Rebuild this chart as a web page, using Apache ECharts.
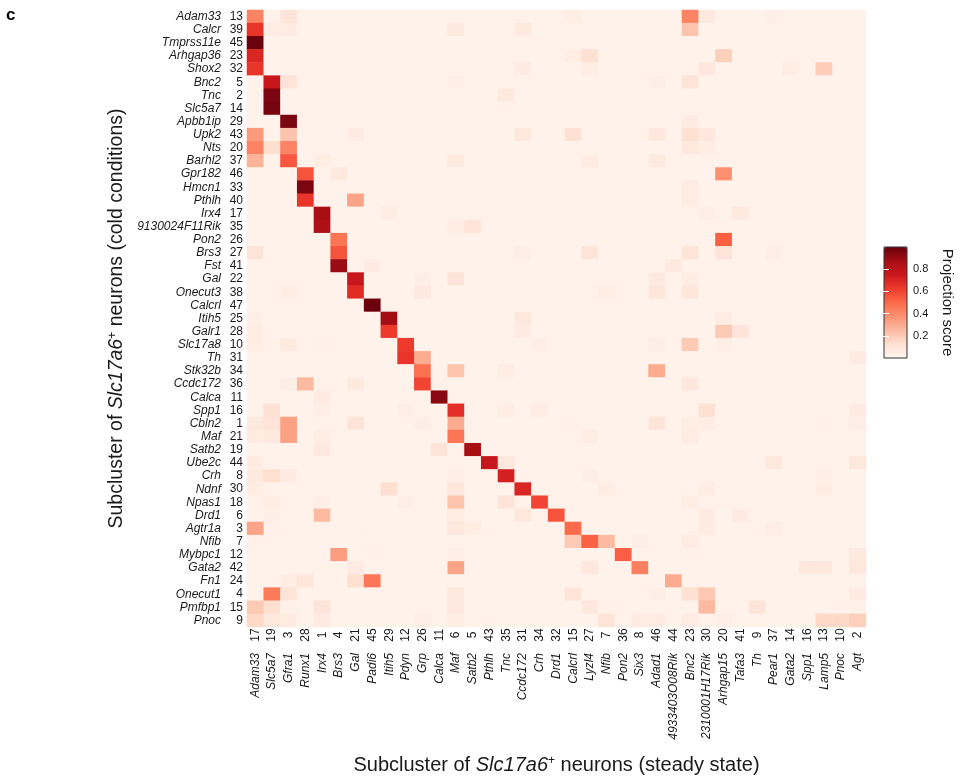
<!DOCTYPE html>
<html><head><meta charset="utf-8">
<script src="https://cdn.jsdelivr.net/npm/echarts@6/dist/echarts.min.js"></script>
<style>html,body{margin:0;padding:0;background:#fff}#c{width:963px;height:780px}</style>
</head><body><div id="c"></div>
<script>
// Columns: subclusters in steady state
const xNames = ['Adam33','Slc5a7','Gfra1','Runx1','Irx4','Brs3','Gal','Padi6','Itih5','Pdyn','Grp','Calca','Maf','Satb2','Pthlh','Tnc','Ccdc172','Crh','Drd1','Calcrl','Lyzl4','Nfib','Pon2','Six3','Adad1','4933403O08Rik','Bnc2','2310001H17Rik','Arhgap15','Tafa3','Th','Pear1','Gata2','Spp1','Lamp5','Pnoc','Agt'];
const xIds = [17,19,3,28,1,4,21,45,29,12,26,11,6,5,43,35,31,34,32,15,27,7,36,8,46,44,23,30,20,41,9,37,14,16,13,10,2];
// Rows: subclusters in cold conditions
const yNames = ['Adam33','Calcr','Tmprss11e','Arhgap36','Shox2','Bnc2','Tnc','Slc5a7','Apbb1ip','Upk2','Nts','Barhl2','Gpr182','Hmcn1','Pthlh','Irx4','9130024F11Rik','Pon2','Brs3','Fst','Gal','Onecut3','Calcrl','Itih5','Galr1','Slc17a8','Th','Stk32b','Ccdc172','Calca','Spp1','Cbln2','Maf','Satb2','Ube2c','Crh','Ndnf','Npas1','Drd1','Agtr1a','Nfib','Mybpc1','Gata2','Fn1','Onecut1','Pmfbp1','Pnoc'];
const yIds = [13,39,45,23,32,5,2,14,29,43,20,37,46,33,40,17,35,26,27,41,22,38,47,25,28,10,31,34,36,11,16,1,21,19,44,8,30,18,6,3,7,12,42,24,4,15,9];
// Projection scores in hundredths, one array per row (cold subcluster), 37 columns each
const scoreRows = [
[42,2,10,2,2,2,2,2,2,2, 2,2,2,2,2,2,2,2,2,5, 2,2,2,2,2,2,42,7,2,2, 2,4,2,2,2,2,2],
[65,5,6,2,2,2,2,2,2,2, 2,2,7,2,2,2,7,2,2,2, 2,2,2,2,2,2,22,2,2,2, 2,2,2,2,2,2,2],
[99,2,2,2,2,2,2,2,2,2, 2,2,2,2,2,2,2,2,2,2, 2,2,2,2,2,2,2,2,2,2, 2,2,2,2,2,2,2],
[70,2,2,2,2,2,2,2,2,2, 2,2,2,2,2,2,2,2,2,5, 12,2,2,2,2,2,2,2,18,2, 2,2,2,2,2,2,2],
[65,2,2,2,2,2,2,2,2,2, 2,2,2,2,2,2,6,2,2,2, 5,2,2,2,2,2,2,8,2,2, 2,2,5,2,19,2,2],
[2,76,10,2,2,2,2,2,2,2, 2,2,4,2,2,2,2,2,2,2, 2,2,2,2,4,2,10,2,2,2, 2,2,2,2,2,2,2],
[2,96,2,2,2,2,2,2,2,2, 2,2,2,2,2,7,2,2,2,2, 2,2,2,2,2,2,2,2,2,2, 2,2,2,2,2,2,2],
[2,97,2,2,2,2,2,2,2,2, 2,2,2,2,2,3,2,2,2,2, 2,2,2,2,2,2,2,2,2,2, 2,2,2,2,2,2,2],
[2,2,96,2,2,2,2,2,2,2, 2,2,2,2,2,2,2,2,2,2, 2,2,2,2,2,2,6,2,2,2, 2,2,2,2,2,2,2],
[35,2,22,2,2,2,6,2,2,2, 2,2,2,2,2,2,8,2,2,12, 2,2,2,2,8,2,12,8,2,2, 2,2,2,2,2,2,2],
[42,13,42,2,2,2,2,2,2,2, 2,2,2,2,2,2,2,2,2,2, 2,2,2,2,2,2,8,5,2,2, 2,2,2,2,2,2,2],
[27,2,55,2,5,2,2,2,2,2, 2,2,7,2,2,2,2,2,2,2, 6,2,2,2,7,2,2,2,2,2, 2,2,2,2,2,2,2],
[2,2,2,56,2,7,2,2,2,2, 2,2,2,2,2,2,2,2,2,2, 2,2,2,2,2,2,2,2,38,2, 2,2,2,2,2,2,2],
[2,2,2,96,2,2,2,2,2,2, 2,2,2,2,2,2,2,2,2,2, 2,2,2,2,2,2,6,2,2,2, 2,2,2,2,2,2,2],
[2,2,2,65,2,2,32,2,2,2, 2,2,2,2,2,2,2,2,2,2, 2,2,2,2,2,2,6,2,2,2, 2,2,2,2,2,2,2],
[2,2,2,2,87,2,2,2,5,2, 2,2,2,2,2,2,2,2,2,2, 2,2,2,2,2,2,2,4,2,7, 2,2,2,2,2,2,2],
[2,2,2,2,85,2,2,2,2,2, 2,2,5,10,2,2,2,2,2,2, 2,2,2,2,2,2,2,2,2,2, 2,2,2,2,2,2,2],
[2,2,2,2,2,47,2,2,2,2, 2,2,2,2,2,2,2,2,2,2, 2,2,2,2,2,2,2,2,53,2, 2,2,2,2,2,2,2],
[10,2,2,2,2,56,2,2,2,2, 2,2,2,2,2,2,4,2,2,2, 10,2,2,2,2,2,10,2,10,2, 2,4,2,2,2,2,2],
[2,2,2,2,2,90,2,6,2,2, 2,2,2,2,2,2,2,2,2,2, 2,2,2,2,2,7,2,2,2,2, 2,2,2,2,2,2,2],
[2,2,2,2,2,2,76,2,2,2, 4,2,10,2,2,2,2,2,2,2, 2,2,2,2,7,2,5,2,2,2, 2,2,2,2,2,2,2],
[2,2,5,2,2,2,68,2,2,2, 7,2,2,2,2,2,2,2,2,2, 2,5,2,2,9,2,9,2,2,2, 2,2,2,2,2,2,2],
[2,2,2,2,2,2,2,99,2,2, 2,2,2,2,2,2,2,2,2,2, 2,2,2,2,2,2,2,2,2,2, 2,2,2,2,2,2,2],
[4,2,2,2,2,2,2,2,88,2, 2,2,2,2,2,2,8,2,2,2, 2,2,2,2,2,2,2,2,5,2, 2,2,2,2,2,2,2],
[5,2,2,2,2,2,2,2,63,2, 2,2,2,2,2,2,6,2,2,2, 2,2,2,2,2,2,2,2,20,10, 2,2,2,2,2,2,2],
[5,2,7,2,3,2,2,2,2,63, 2,2,2,2,2,2,2,4,2,2, 2,2,2,2,4,2,20,2,4,2, 2,2,2,2,2,2,2],
[2,2,2,2,2,2,2,2,2,65, 30,2,2,2,2,2,2,2,2,2, 2,2,2,2,2,2,2,2,2,2, 2,2,2,2,2,2,6],
[2,2,2,2,2,2,2,2,2,2, 48,2,22,2,2,5,2,2,2,2, 2,2,2,2,30,2,2,2,2,2, 2,2,2,2,2,2,2],
[2,2,4,25,2,2,7,2,2,2, 60,2,2,2,2,2,2,2,2,2, 2,2,2,2,2,2,8,2,2,2, 2,2,2,2,2,2,2],
[2,2,2,2,6,2,2,2,2,2, 2,93,2,2,2,2,2,2,2,2, 2,2,2,2,2,2,2,2,2,2, 2,2,2,2,2,2,2],
[2,12,2,2,4,2,2,2,2,4, 2,2,67,2,2,5,2,5,2,2, 2,2,2,2,2,2,2,12,2,2, 2,2,2,2,2,2,6],
[7,10,33,2,2,2,10,2,2,2, 4,2,30,2,2,2,2,2,2,3, 2,2,2,2,10,2,5,5,2,2, 2,2,2,2,3,2,4],
[6,7,33,2,5,2,2,2,2,2, 2,2,47,2,2,2,2,2,2,2, 5,2,2,2,2,2,6,2,2,2, 2,2,2,2,2,2,2],
[2,2,2,2,7,2,2,2,2,2, 2,10,2,87,2,2,2,2,2,2, 2,2,2,2,2,2,2,2,2,2, 2,2,2,2,2,2,2],
[6,2,2,2,2,2,2,2,2,2, 2,2,2,2,77,8,2,2,2,2, 2,2,2,2,2,2,2,2,2,2, 2,8,2,2,2,2,8],
[7,13,6,2,2,2,2,2,2,2, 2,2,4,2,2,72,2,2,2,2, 4,2,2,2,2,2,2,2,2,2, 2,2,2,2,4,2,2],
[5,2,2,2,2,2,2,2,13,2, 2,2,8,2,2,2,70,2,2,2, 2,5,2,2,2,2,2,5,2,2, 2,2,2,2,5,2,2],
[2,5,2,2,4,2,2,2,2,4, 2,2,22,2,2,10,2,60,2,2, 2,2,2,2,2,2,5,2,2,2, 2,2,2,2,2,2,2],
[2,4,2,2,25,2,2,2,2,2, 2,2,6,2,2,2,8,2,56,2, 2,2,2,2,2,2,2,6,2,6, 2,2,2,2,2,2,2],
[32,3,2,2,2,2,2,2,2,2, 2,2,8,5,2,2,2,2,2,50, 2,2,2,2,2,2,2,6,2,2, 2,5,2,2,2,2,2],
[3,2,2,2,2,2,2,2,2,2, 2,2,2,2,2,2,2,2,2,20, 52,25,2,4,2,2,6,2,2,2, 2,2,2,2,2,2,2],
[2,2,2,2,2,34,2,3,2,2, 2,2,4,2,2,2,2,2,2,2, 2,2,53,2,2,2,3,2,2,2, 2,2,2,2,2,2,7],
[2,2,2,2,2,2,6,2,2,2, 2,2,32,2,2,2,2,2,2,2, 8,2,2,43,2,2,2,2,2,2, 2,2,2,8,8,2,8],
[2,2,5,9,2,2,13,46,2,2, 2,2,2,2,2,2,2,2,2,2, 2,2,2,2,2,30,2,2,2,2, 2,2,2,2,2,2,2],
[2,45,10,2,2,2,2,2,2,2, 2,2,7,2,2,2,2,2,2,10, 2,2,2,2,4,2,12,21,2,2, 2,2,2,2,2,2,6],
[20,13,3,2,10,2,2,2,2,2, 2,2,8,2,2,2,2,2,2,2, 8,3,2,2,2,2,2,25,2,2, 10,2,2,2,2,3,3],
[15,8,6,2,6,2,2,2,2,2, 4,2,5,2,3,2,2,2,2,2, 2,10,2,6,6,2,6,2,4,2, 2,2,2,2,15,15,18]
];
const colorbarTicks = [0.2, 0.4, 0.6, 0.8];
const redsPalette = ['#fff5f0','#fee0d2','#fcbba1','#fc9272','#fb6a4a','#ef3b2c','#cb181d','#a50f15','#67000d'];

const heatData = [];
scoreRows.forEach((row, r) => row.forEach((v, c) => heatData.push([c, r, v / 100])));

const FONT = 'Liberation Sans, Arial, sans-serif';
const TXT = '#1a1a1a';

const chart = echarts.init(document.getElementById('c'), null, {renderer: 'canvas'});
chart.setOption({
  animation: false,
  backgroundColor: '#ffffff',
  graphic: [{
    type: 'text', left: 6, top: 7,
    style: {text: 'c', fontSize: 17, fontWeight: 'bold', fontFamily: FONT, fill: '#000'}
  }],
  grid: [
    {left: 247, top: 10, width: 619, height: 618},
    {left: 884, top: 247, width: 23, height: 111, show: true, z: 10,
     backgroundColor: 'rgba(0,0,0,0)', borderColor: '#333', borderWidth: 1}
  ],
  xAxis: [{
    type: 'category', data: xNames, gridIndex: 0,
    axisLine: {show: false}, axisTick: {show: false}, splitLine: {show: false},
    axisLabel: {
      interval: 0, rotate: 90, margin: 1,
      formatter: (v, i) => '{n|' + xNames[i] + '}{g| }{v|' + xIds[i] + '}',
      rich: {
        n: {fontFamily: FONT, fontSize: 12, fontStyle: 'italic', color: TXT},
        g: {width: 11, fontSize: 12},
        v: {fontFamily: FONT, fontSize: 12, color: TXT, width: 14, align: 'left'}
      }
    },
    name: '{a|Subcluster of }{i|Slc17a6}{s|+}{a| neurons (steady state)}',
    nameLocation: 'middle', nameGap: 128,
    nameTextStyle: {
      rich: {
        a: {fontFamily: FONT, fontSize: 20, color: TXT},
        i: {fontFamily: FONT, fontSize: 20, fontStyle: 'italic', color: TXT},
        s: {fontFamily: FONT, fontSize: 12, color: TXT, verticalAlign: 'top'}
      }
    }
  }, {
    type: 'value', gridIndex: 1, show: false, min: 0, max: 1
  }],
  yAxis: [{
    type: 'category', data: yNames, inverse: true, gridIndex: 0,
    axisLine: {show: false}, axisTick: {show: false}, splitLine: {show: false},
    axisLabel: {
      interval: 0, margin: 4,
      formatter: (v, i) => '{n|' + yNames[i] + '}{g| }{v|' + yIds[i] + '}',
      rich: {
        n: {fontFamily: FONT, fontSize: 12, fontStyle: 'italic', color: TXT},
        g: {width: 8, fontSize: 12},
        v: {fontFamily: FONT, fontSize: 12, color: TXT, width: 14, align: 'right'}
      }
    },
    name: '{a|Subcluster of }{i|Slc17a6}{s|+}{a| neurons (cold conditions)}',
    nameLocation: 'middle', nameGap: 117, nameRotate: 90,
    nameTextStyle: {
      rich: {
        a: {fontFamily: FONT, fontSize: 19.5, color: TXT},
        i: {fontFamily: FONT, fontSize: 19.5, fontStyle: 'italic', color: TXT},
        s: {fontFamily: FONT, fontSize: 12, color: TXT, verticalAlign: 'top'}
      }
    }
  }, {
    type: 'value', gridIndex: 1, min: 0, max: 1, position: 'right', z: 10,
    axisLine: {show: false}, splitLine: {show: false},
    axisTick: {show: true, inside: true, length: 5, customValues: colorbarTicks,
               lineStyle: {color: '#ffffff', width: 1}},
    axisLabel: {customValues: colorbarTicks, margin: 6, fontFamily: FONT, fontSize: 11, color: TXT,
                formatter: v => v.toFixed(1)},
    name: 'Projection score', nameLocation: 'middle', nameRotate: -90, nameGap: 33,
    nameTextStyle: {fontFamily: FONT, fontSize: 15, color: TXT}
  }, {
    type: 'value', gridIndex: 1, min: 0, max: 1, position: 'left', z: 10,
    axisLine: {show: false}, splitLine: {show: false}, axisLabel: {show: false},
    axisTick: {show: true, inside: true, length: 5, customValues: colorbarTicks,
               lineStyle: {color: '#ffffff', width: 1}}
  }],
  visualMap: {
    type: 'continuous', min: 0, max: 1, seriesIndex: 0,
    calculable: false, realtime: false, hoverLink: false,
    orient: 'vertical', left: 884, top: 247, itemWidth: 23, itemHeight: 111, padding: 0,
    inRange: {color: redsPalette}
  },
  series: [{
    type: 'heatmap', xAxisIndex: 0, yAxisIndex: 0, data: heatData,
    itemStyle: {borderWidth: 0},
    emphasis: {disabled: true}
  }]
});
</script></body></html>
